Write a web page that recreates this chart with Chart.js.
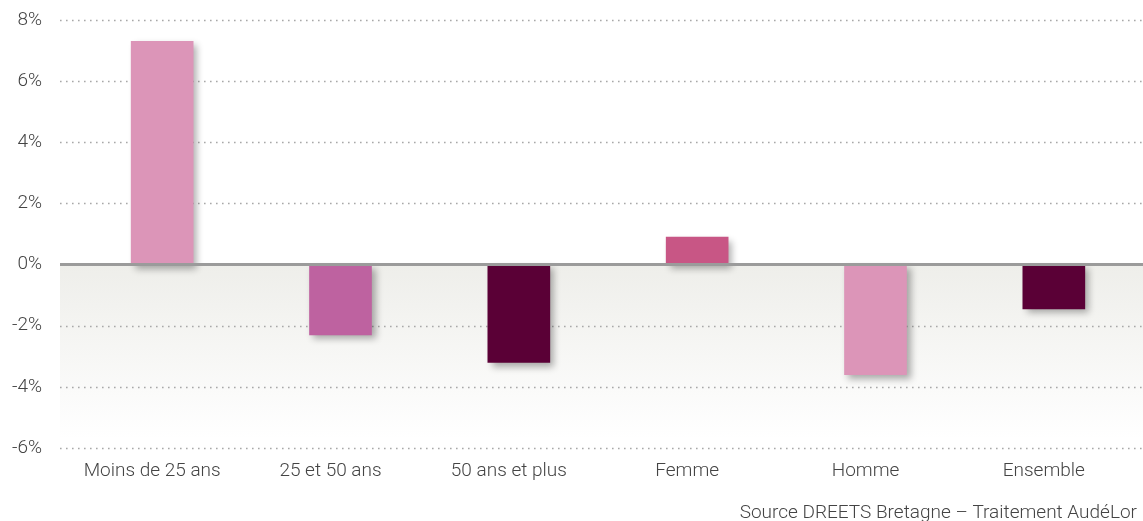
<!DOCTYPE html>
<html lang="fr">
<head>
<meta charset="utf-8">
<script src="https://cdn.jsdelivr.net/npm/chart.js@4"></script>
<style>
  html, body { margin: 0; padding: 0; background: #fff; }
  #wrap { width: 1143px; height: 521px; position: relative; }
</style>
</head>
<body>
<div id="wrap"><canvas id="chart"></canvas></div>
<script>
const categories = ["Moins de 25 ans", "25 et 50 ans", "50 ans et plus", "Femme", "Homme", "Ensemble"];
const values = [7.3, -2.3, -3.2, 0.9, -3.6, -1.45];
const barColors = ["#dc95b8", "#be62a0", "#5a0036", "#c85685", "#dc95b8", "#5a0036"];
const yTicks = [8, 6, 4, 2, 0, -2, -4, -6];
const sourceText = "Source DREETS Bretagne – Traitement AudéLor";

const gridLeft = 60;
const labelFont = { family: "Roboto", size: 19, weight: "300" };

// grey gradient under the zero line, dotted grid, bar shadows and the zero line
const backdrop = {
  id: "backdrop",
  beforeDatasetsDraw(chart) {
    const { ctx, chartArea, scales } = chart;
    const y0 = scales.y.getPixelForValue(0);
    const yb = scales.y.getPixelForValue(-6);
    const g = ctx.createLinearGradient(0, y0, 0, yb);
    g.addColorStop(0, "#eeeeea");
    g.addColorStop(0.95, "#ffffff");
    ctx.save();
    ctx.fillStyle = g;
    ctx.fillRect(gridLeft, y0, chartArea.right - gridLeft, yb - y0);

    ctx.strokeStyle = "#a8a8a8";
    ctx.lineWidth = 1.6;
    ctx.setLineDash([1.6, 4.4]);
    yTicks.forEach((t) => {
      if (t === 0) return;
      const y = Math.round(scales.y.getPixelForValue(t)) + 0.5;
      ctx.beginPath();
      ctx.moveTo(gridLeft, y);
      ctx.lineTo(chartArea.right, y);
      ctx.stroke();
    });
    ctx.restore();

    ctx.save();
    ctx.shadowColor = "rgba(0,0,0,0.32)";
    ctx.shadowBlur = 7;
    ctx.shadowOffsetX = 4;
    ctx.shadowOffsetY = 4;
  },
  afterDatasetsDraw(chart) {
    const { ctx, chartArea, scales } = chart;
    ctx.restore();
    const y0 = scales.y.getPixelForValue(0);
    ctx.save();
    ctx.strokeStyle = "#9b9b9b";
    ctx.lineWidth = 3;
    ctx.beginPath();
    ctx.moveTo(gridLeft, y0);
    ctx.lineTo(chartArea.right, y0);
    ctx.stroke();
    ctx.restore();
  },
  // source line in the bottom right corner
  afterDraw(chart) {
    const { ctx, width, height } = chart;
    ctx.save();
    ctx.font = "300 19px Roboto";
    ctx.fillStyle = "#444";
    ctx.textAlign = "right";
    ctx.textBaseline = "middle";
    ctx.fillText(sourceText, width - 6, height - 8);
    ctx.restore();
  },
};

new Chart(document.getElementById("chart"), {
  type: "bar",
  data: {
    labels: categories,
    datasets: [
      {
        data: values,
        backgroundColor: barColors,
        borderWidth: 0,
        barThickness: 62,
      },
    ],
  },
  options: {
    responsive: true,
    maintainAspectRatio: false,
    animation: false,
    layout: { padding: { top: 20, right: 0, left: 0, bottom: 30 } },
    plugins: {
      legend: { display: false },
      tooltip: { enabled: false },
    },
    scales: {
      x: {
        afterFit(scale) {
          scale.height = 43;
        },
        grid: { display: false, drawTicks: false },
        border: { display: false },
        ticks: {
          color: "#444",
          font: labelFont,
          padding: 12,
          labelOffset: -10,
        },
      },
      y: {
        min: -6,
        max: 8,
        afterFit(scale) {
          scale.width = 73;
          scale.paddingTop = 0;
          scale.paddingBottom = 0;
        },
        grid: { display: false, drawTicks: false },
        border: { display: false },
        ticks: {
          stepSize: 2,
          color: "#444",
          font: labelFont,
          padding: 31,
          callback: (v) => v + "%",
        },
      },
    },
  },
  plugins: [backdrop],
});
</script>
</body>
</html>
